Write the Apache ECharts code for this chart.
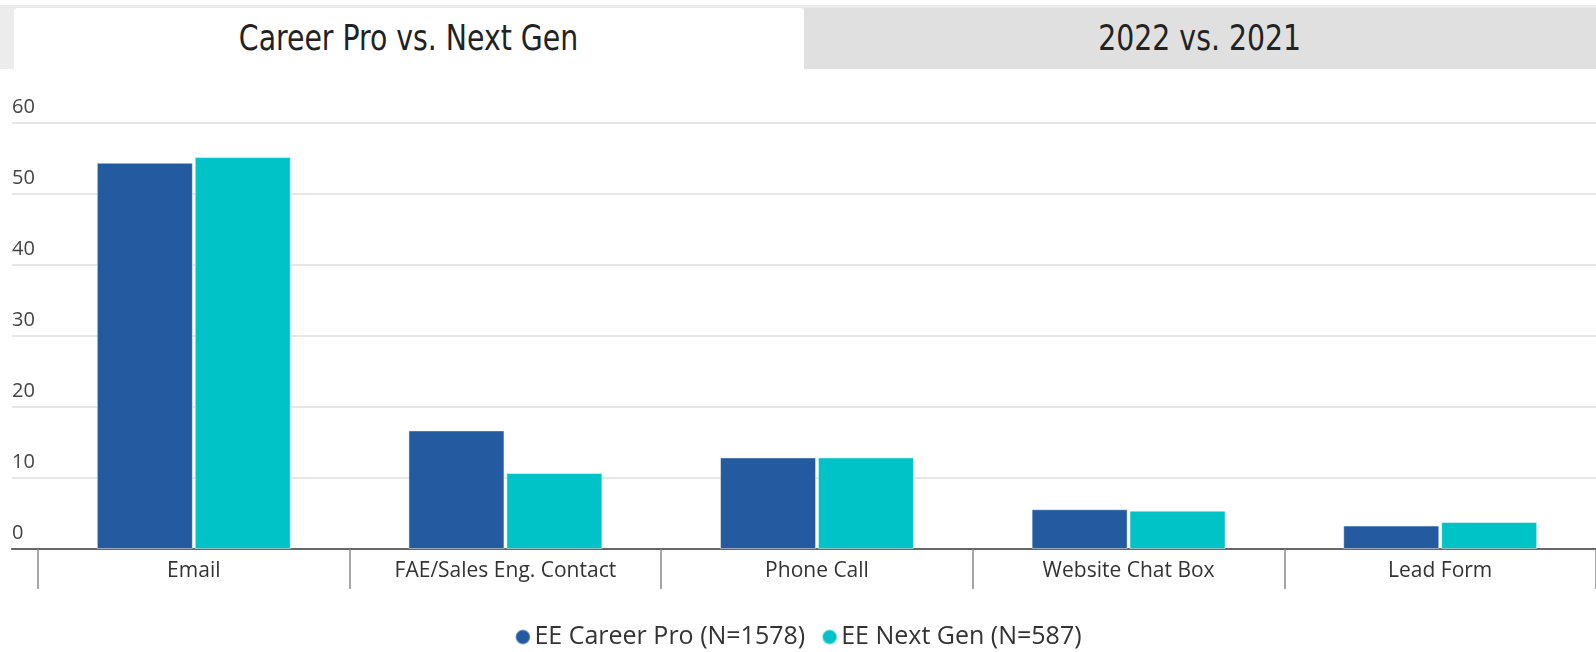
<!DOCTYPE html>
<html>
<head>
<meta charset="utf-8">
<title>Career Pro vs. Next Gen</title>
<script src="https://cdn.jsdelivr.net/npm/echarts@6/dist/echarts.min.js"></script>
<style>
  html, body {
    margin: 0;
    padding: 0;
    background: #ffffff;
  }
  .wrap {
    position: relative;
    width: 1596px;
    height: 652px;
    overflow: hidden;
  }
  #chartBox {
    position: absolute;
    left: 0;
    top: 0;
    width: 1596px;
    height: 652px;
  }
  .tabs {
    position: absolute;
    left: 0;
    top: 5px;
    width: 1596px;
    height: 64px;
    background: #ececec;
    font-family: "DejaVu Sans Condensed", "Open Sans", sans-serif;
    font-size: 35px;
    color: #222;
  }
  .tab {
    position: absolute;
    top: 3px;
    height: 61px;
    line-height: 61px;
    text-align: center;
  }
  .tab span {
    display: inline-block;
    transform: scaleX(0.9);
  }
  .tab.active {
    left: 14px;
    width: 790px;
    background: #ffffff;
    border-top-left-radius: 4px;
    border-top-right-radius: 4px;
  }
  .tab.other {
    left: 804px;
    width: 792px;
    background: #e0e0e0;
  }
</style>
</head>
<body>
<div class="wrap">
  <div id="chartBox"></div>
  <div class="tabs">
    <div class="tab active"><span>Career Pro vs. Next Gen</span></div>
    <div class="tab other"><span>2022 vs. 2021</span></div>
  </div>
</div>
<script>
const categories = ["Email", "FAE/Sales Eng. Contact", "Phone Call", "Website Chat Box", "Lead Form"];
const careerPro = [54.4, 16.7, 12.9, 5.6, 3.3];
const nextGen = [55.2, 10.7, 12.9, 5.4, 3.8];
const seriesNames = ["EE Career Pro (N=1578)", "EE Next Gen (N=587)"];
const yTicks = { min: 0, max: 60, interval: 10 };

const _font = '"Open Sans", "Noto Sans", sans-serif';

const chart = echarts.init(document.getElementById("chartBox"));

const option = {
  animation: false,
  textStyle: { fontFamily: _font },
  grid: [
    // background grid: gridlines + y labels + bottom axis line
    { left: 12, right: 0, top: 123, bottom: 103 },
    // bars
    { left: 38, right: -4, top: 123, bottom: 103 },
  ],
  legend: {
    top: 617,
    left: "center",
    icon: "circle",
    itemWidth: 15,
    itemHeight: 15,
    itemGap: 16,
    textStyle: { fontSize: 25, lineHeight: 30, color: "#333", fontFamily: _font, padding: [0, 0, 0, -1] },
    data: seriesNames,
  },
  xAxis: [
    {
      gridIndex: 0,
      type: "value",
      min: 0,
      max: 1,
      axisLine: { show: true, onZero: false, lineStyle: { color: "#666", width: 2 } },
      axisTick: { show: false },
      axisLabel: { show: false },
      splitLine: { show: false },
    },
    {
      gridIndex: 1,
      type: "category",
      data: categories,
      axisLine: { show: false },
      axisTick: {
        show: true,
        interval: 0,
        length: 40,
        lineStyle: { color: "#888", width: 1.5 },
      },
      axisLabel: {
        interval: 0,
        margin: 12,
        fontSize: 21,
        color: "#333",
        fontFamily: _font,
      },
    },
  ],
  yAxis: [
    {
      gridIndex: 0,
      type: "value",
      min: yTicks.min,
      max: yTicks.max,
      interval: yTicks.interval,
      axisLine: { show: false },
      axisTick: { show: false },
      axisLabel: {
        inside: true,
        margin: 0,
        verticalAlign: "bottom",
        padding: [0, 0, 6, 0],
        fontSize: 20,
        color: "#444",
        fontFamily: _font,
        showMaxLabel: true,
      },
      splitLine: { lineStyle: { color: "#e6e6e6", width: 2 } },
    },
    {
      gridIndex: 1,
      type: "value",
      min: yTicks.min,
      max: yTicks.max,
      interval: yTicks.interval,
      show: false,
      splitLine: { show: false },
    },
  ],
  series: [
    {
      name: seriesNames[0],
      type: "bar",
      xAxisIndex: 1,
      yAxisIndex: 1,
      barWidth: 96,
      barGap: "2%",
      data: careerPro,
      itemStyle: { color: "#245a9f", borderColor: "rgba(255,255,255,0.45)", borderWidth: 1 },
    },
    {
      name: seriesNames[1],
      type: "bar",
      xAxisIndex: 1,
      yAxisIndex: 1,
      barWidth: 96,
      barGap: "2%",
      data: nextGen,
      itemStyle: { color: "#00c3c7", borderColor: "rgba(255,255,255,0.45)", borderWidth: 1 },
    },
  ],
};

if (option && typeof option === "object") {
  chart.setOption(option);
}
</script>
</body>
</html>
